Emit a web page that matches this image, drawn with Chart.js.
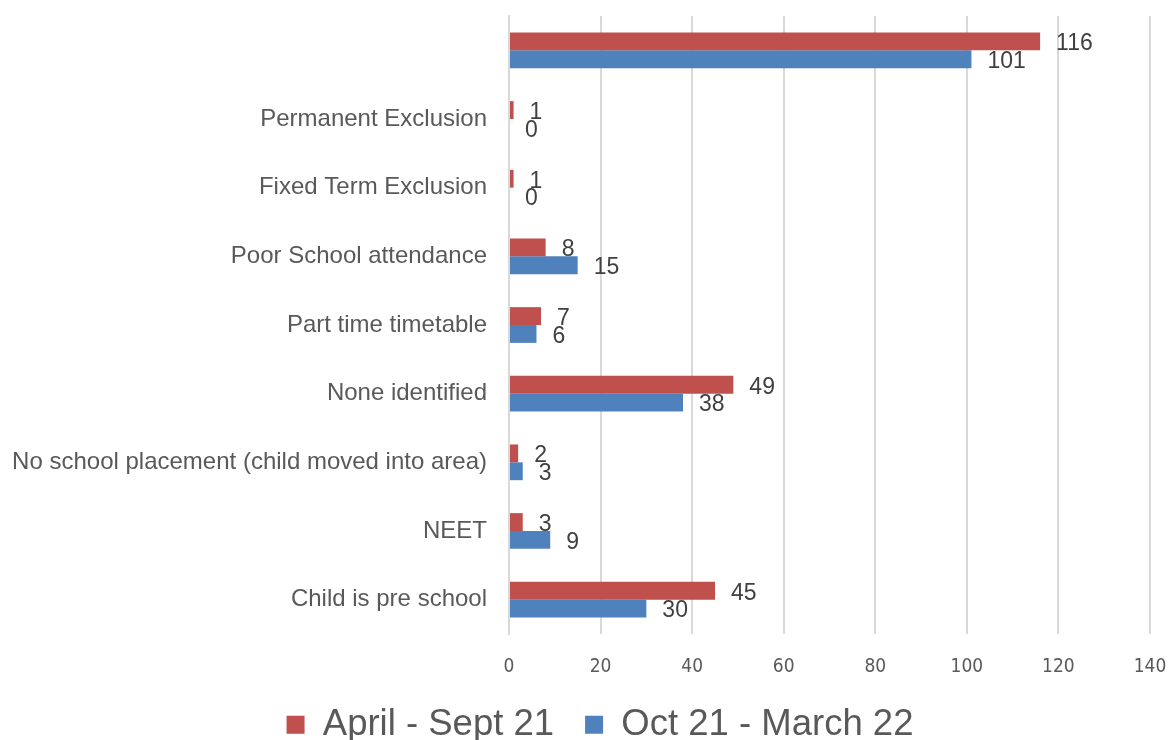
<!DOCTYPE html>
<html>
<head>
<meta charset="utf-8">
<script src="https://cdn.jsdelivr.net/npm/chart.js@4/dist/chart.umd.min.js"></script>
<style>
  html, body { margin: 0; padding: 0; background: #ffffff; }
  #wrap { width: 1173px; height: 740px; position: relative; }
</style>
</head>
<body>
<div id="wrap"><canvas id="c"></canvas></div>
<script>
const categories = [
  "",
  "Permanent Exclusion",
  "Fixed Term Exclusion",
  "Poor School attendance",
  "Part time timetable",
  "None identified",
  "No school placement (child moved into area)",
  "NEET",
  "Child is pre school"
];
const seriesNames = ["April - Sept 21", "Oct 21 - March 22"];
const aprSept21 = [116, 1, 1, 8, 7, 49, 2, 3, 45];
const oct21Mar22 = [101, 0, 0, 15, 6, 38, 3, 9, 30];
const xTicksMin = 0, xTicksMax = 140, xTickStep = 20;

const FONT = "'Liberation Sans', Arial, sans-serif";
const TICKFONT = "'DejaVu Sans Condensed', 'DejaVu Sans', sans-serif";

const valueLabels = {
  id: 'valueLabels',
  afterDatasetsDraw(chart) {
    const ctx = chart.ctx;
    ctx.save();
    ctx.font = "23px " + FONT;
    ctx.fillStyle = '#404040';
    ctx.textAlign = 'left';
    ctx.textBaseline = 'middle';
    chart.data.datasets.forEach((ds, i) => {
      const meta = chart.getDatasetMeta(i);
      meta.data.forEach((el, j) => {
        ctx.fillText(String(ds.data[j]), el.x + 16, el.y + 2.5);
      });
    });
    ctx.restore();
  }
};

new Chart(document.getElementById('c'), {
  type: 'bar',
  data: {
    labels: categories,
    datasets: [
      { label: seriesNames[0], data: aprSept21, backgroundColor: '#C0504D', borderWidth: 0 },
      { label: seriesNames[1], data: oct21Mar22, backgroundColor: '#4F81BD', borderWidth: 0 }
    ]
  },
  options: {
    indexAxis: 'y',
    responsive: true,
    maintainAspectRatio: false,
    animation: false,
    devicePixelRatio: 1,
    layout: { padding: { top: 16, right: -27, left: 0, bottom: -13 } },
    datasets: { bar: { categoryPercentage: 0.52, barPercentage: 1.0 } },
    scales: {
      x: {
        min: xTicksMin, max: xTicksMax,
        ticks: { stepSize: xTickStep, color: '#595959', font: { family: TICKFONT, size: 19 }, padding: 22 },
        grid: { color: '#d9d9d9', lineWidth: 2, drawTicks: false },
        border: { display: false },
        afterFit(scale) { scale.height = 41.5; scale.paddingLeft = 0; scale.paddingRight = 23; }
      },
      y: {
        ticks: { color: '#595959', font: { family: FONT, size: 24 }, padding: 22 },
        grid: { display: false, drawTicks: false },
        border: { display: true, color: '#d9d9d9', width: 2 },
        afterFit(scale) { scale.width = 509; scale.paddingTop = 0; scale.paddingBottom = 0; }
      }
    },
    plugins: {
      legend: {
        position: 'bottom',
        labels: {
          color: '#595959',
          font: { family: FONT, size: 36.5 },
          boxWidth: 18, boxHeight: 18,
          padding: 31
        }
      },
      tooltip: { enabled: false }
    }
  },
  plugins: [valueLabels]
});
</script>
</body>
</html>
